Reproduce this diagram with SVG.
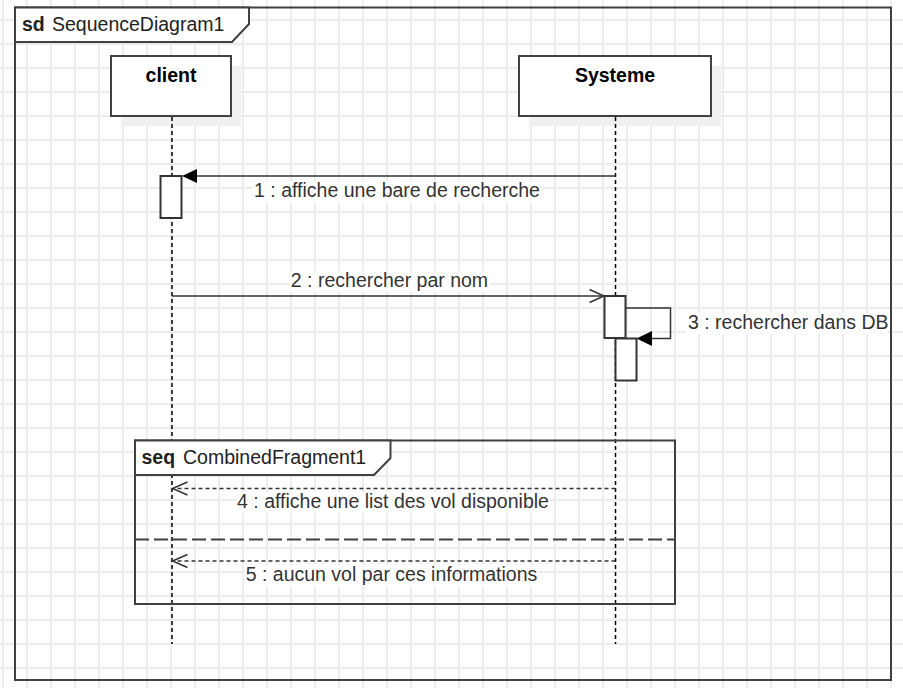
<svg xmlns="http://www.w3.org/2000/svg" width="903" height="688" viewBox="0 0 903 688">
  <style>
    text { font-family: "Liberation Sans", Arial, sans-serif; font-size: 19.5px; }
    .hdr { fill: #222; }
    .b { font-weight: bold; }
    .lbl { fill: #333; }
    .frame { fill: none; stroke: #404040; stroke-width: 2; }
    .tab { fill: #fff; stroke: #404040; stroke-width: 2; }
    .head { fill: #fff; stroke: #404040; stroke-width: 2; }
    .shadow { fill: #f0f0f0; }
    .life { stroke: #000; stroke-width: 1.5; stroke-dasharray: 4 3; }
    .act { fill: #fff; stroke: #333; stroke-width: 2; }
    .msg { fill: none; stroke: #333; stroke-width: 1.5; }
    .ret { fill: none; stroke: #333; stroke-width: 1.5; stroke-dasharray: 4 3; }
    .open { fill: none; stroke: #333; stroke-width: 1.5; }
    .filled { fill: #000; stroke: none; }
    .bg { fill: #fff; }
    .sep { stroke: #404040; stroke-width: 2; stroke-dasharray: 14 5; }
  </style>
  <defs>
    <pattern id="grid" patternUnits="userSpaceOnUse" x="-9" y="8" width="24" height="24">
      <path d="M12 0V24M0 12H24" stroke="#ebebeb" stroke-width="1.8" fill="none"/>
    </pattern>
  </defs>
  <rect x="0" y="0" width="903" height="688" fill="#fff"/>
  <rect x="0" y="0" width="903" height="688" fill="url(#grid)"/>

  <g id="frame">
    <rect class="frame" x="15" y="7.5" width="876" height="672.5"/>
    <path class="tab" d="M15 7.5H249V24L232 42H15Z"/>
    <text class="hdr b" x="22" y="31">sd</text>
    <text class="hdr" x="52" y="31">SequenceDiagram1</text>
  </g>

  <g id="client">
    <rect class="shadow" x="121" y="66" width="120" height="60"/>
    <rect class="head" x="111" y="56" width="120" height="60"/>
    <text class="b" x="171" y="82" text-anchor="middle">client</text>
  </g>

  <g id="systeme">
    <rect class="shadow" x="529" y="66" width="192" height="60"/>
    <rect class="head" x="519" y="56" width="192" height="60"/>
    <text class="b" x="615" y="82" text-anchor="middle">Systeme</text>
  </g>

  <g id="lifelines">
    <line class="life" x1="172" y1="117" x2="172" y2="644"/>
    <line class="life" x1="615.5" y1="117" x2="615.5" y2="644"/>
  </g>

  <g id="fragment">
    <rect class="frame" x="135" y="440.5" width="540" height="163.5"/>
    <path class="tab" d="M135 440.5H390.5V458L374 475H135Z"/>
    <text class="hdr b" x="141.5" y="463.5">seq</text>
    <text class="hdr" x="183" y="463.5">CombinedFragment1</text>
    <line class="sep" x1="135" y1="539.5" x2="675" y2="539.5"/>
  </g>

  <g id="activations">
    <rect class="act" x="160.5" y="176" width="21" height="42"/>
    <rect class="act" x="604.5" y="296" width="21" height="42"/>
    <rect class="act" x="615.5" y="338.5" width="21" height="42"/>
  </g>

  <g id="connectors">
    <g id="m1">
      <line class="msg" x1="615.5" y1="176" x2="195" y2="176"/>
      <polygon class="filled" points="182,176 197,169 197,183"/>
      <rect class="bg" x="252" y="181" width="290" height="21"/>
      <text class="lbl" x="397" y="196.7" text-anchor="middle">1 : affiche une bare de recherche</text>
    </g>
    <g id="m2">
      <line class="msg" x1="172" y1="296" x2="604" y2="296"/>
      <path class="open" d="M589.5 289.5L604 296L589.5 302.5"/>
      <rect class="bg" x="289" y="271" width="201" height="21"/>
      <text class="lbl" x="389.5" y="286.7" text-anchor="middle">2 : rechercher par nom</text>
    </g>
    <g id="m3">
      <path class="msg" d="M625.5 308H670.5V338.5H650"/>
      <polygon class="filled" points="636.5,338.5 652,331 652,346"/>
      <rect class="bg" x="686" y="313" width="202" height="21"/>
      <text class="lbl" x="688" y="329.4">3 : rechercher dans DB</text>
    </g>
    <g id="m4">
      <line class="ret" x1="615.5" y1="488.5" x2="173" y2="488.5"/>
      <path class="open" d="M187.5 482L172.5 488.5L187.5 495"/>
      <rect class="bg" x="236" y="492" width="314" height="21"/>
      <text class="lbl" x="393" y="507.5" text-anchor="middle">4 : affiche une list des vol disponible</text>
    </g>
    <g id="m5">
      <line class="ret" x1="615.5" y1="561" x2="173" y2="561"/>
      <path class="open" d="M187.5 554.5L172.5 561L187.5 567.5"/>
      <rect class="bg" x="244" y="565" width="295" height="21"/>
      <text class="lbl" x="391.5" y="580.5" text-anchor="middle">5 : aucun vol par ces informations</text>
    </g>
  </g>
</svg>
